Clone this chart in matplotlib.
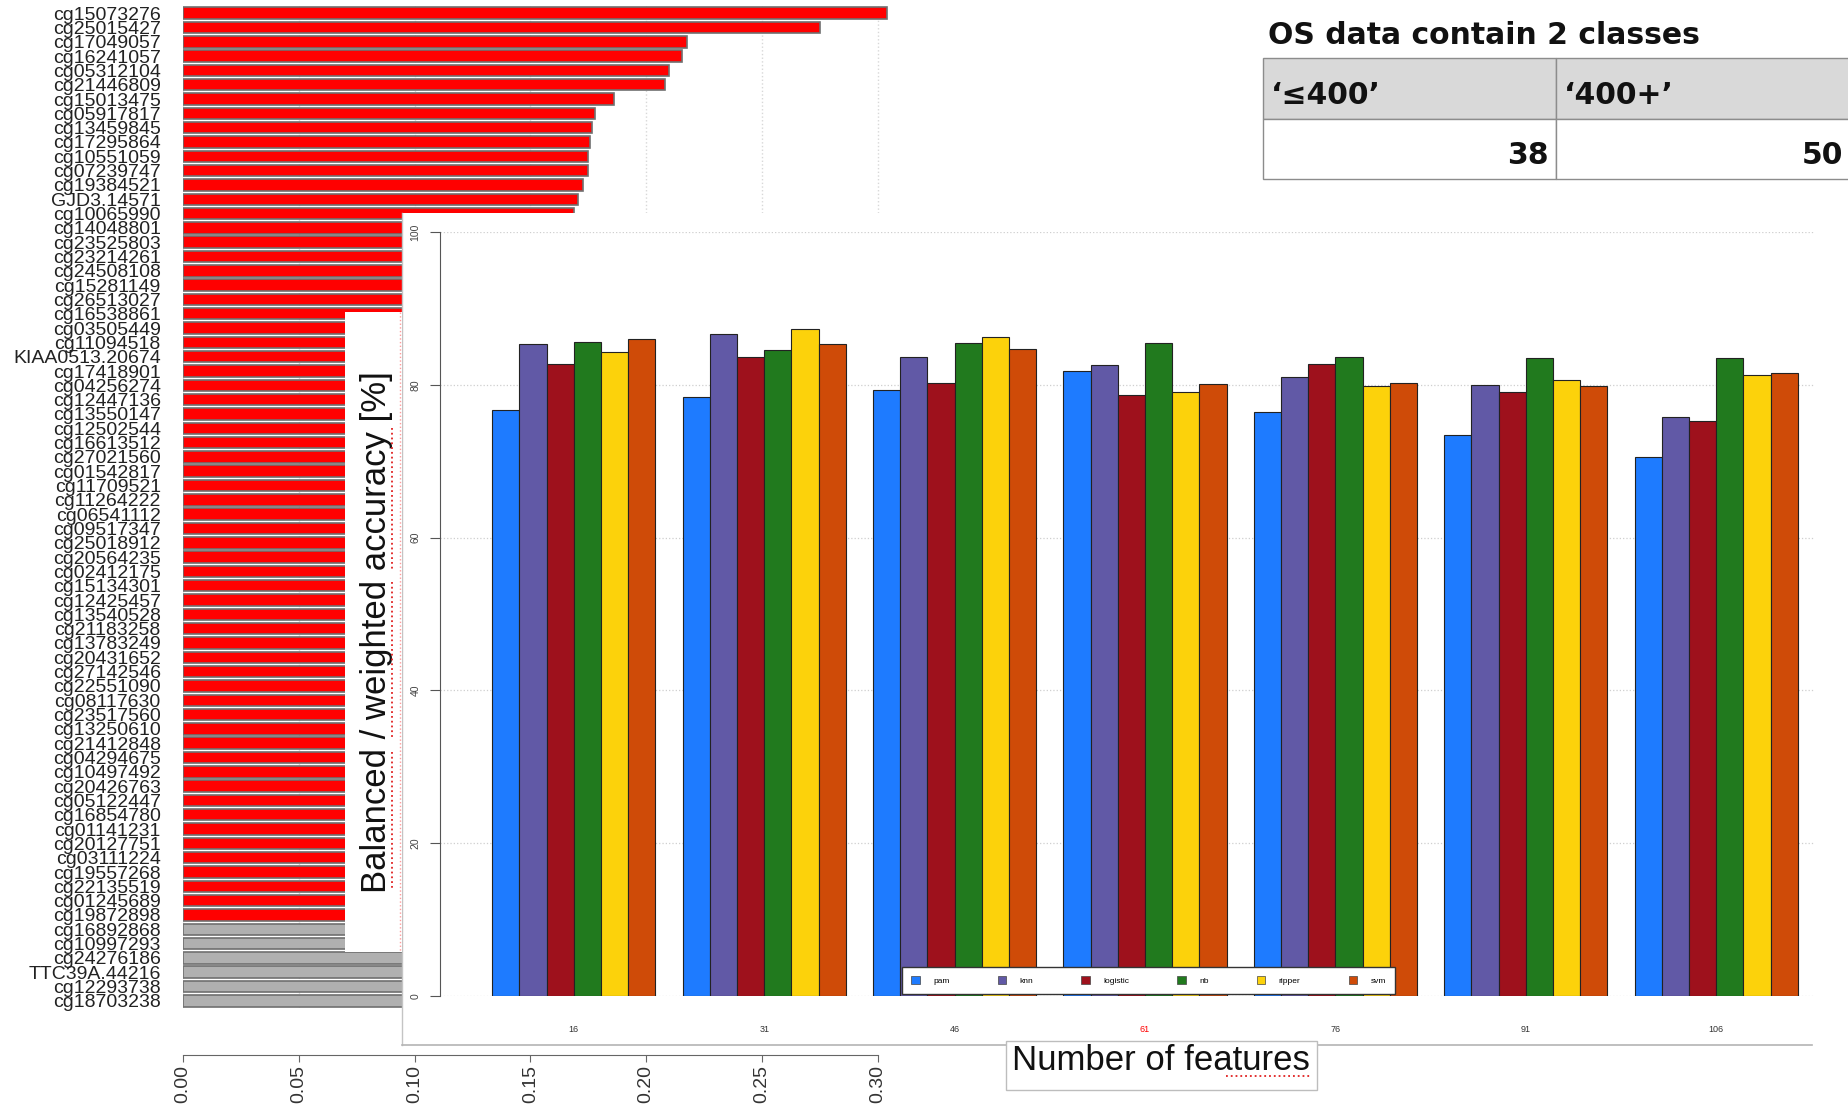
import matplotlib
matplotlib.use("Agg")
import matplotlib.pyplot as plt
from matplotlib.patches import Rectangle, Patch
from matplotlib.lines import Line2D

W, H = 1849, 1112

# feature importance (left panel)
feature_names = [
    "cg15073276", "cg25015427", "cg17049057", "cg16241057", "cg05312104",
    "cg21446809", "cg15013475", "cg05917817", "cg13459845", "cg17295864",
    "cg10551059", "cg07239747", "cg19384521", "GJD3.14571", "cg10065990",
    "cg14048801", "cg23525803", "cg23214261", "cg24508108", "cg15281149",
    "cg26513027", "cg16538861", "cg03505449", "cg11094518", "KIAA0513.20674",
    "cg17418901", "cg04256274", "cg12447136", "cg13550147", "cg12502544",
    "cg16613512", "cg27021560", "cg01542817", "cg11709521", "cg11264222",
    "cg06541112", "cg09517347", "cg25018912", "cg20564235", "cg02412175",
    "cg15134301", "cg12425457", "cg13540528", "cg21183258", "cg13783249",
    "cg20431652", "cg27142546", "cg22551090", "cg08117630", "cg23517560",
    "cg13250610", "cg21412848", "cg04294675", "cg10497492", "cg20426763",
    "cg05122447", "cg16854780", "cg01141231", "cg20127751", "cg03111224",
    "cg19557268", "cg22135519", "cg01245689", "cg19872898",
    "cg16892868", "cg10997293", "cg24276186", "TTC39A.44216", "cg12293738",
    "cg18703238",
]
importance = [
    0.3040, 0.2750, 0.2175, 0.2155, 0.2100, 0.2080, 0.1860, 0.1780, 0.1765, 0.1757,
    0.1750, 0.1748, 0.1726, 0.1705, 0.1690,
    0.1675, 0.1668, 0.1660, 0.1652, 0.1641, 0.1633, 0.1624, 0.1611, 0.1602, 0.1590,
    0.1582, 0.1571, 0.1563, 0.1550, 0.1541, 0.1533, 0.1520, 0.1512, 0.1500, 0.1492,
    0.1480, 0.1471, 0.1462, 0.1450, 0.1443, 0.1431, 0.1422, 0.1410, 0.1401, 0.1390,
    0.1382, 0.1371, 0.1360, 0.1352, 0.1340, 0.1331, 0.1320, 0.1311, 0.1300, 0.1292,
    0.1280, 0.1271, 0.1262, 0.1250, 0.1241, 0.1232, 0.1224, 0.1215, 0.1206,
    0.1180, 0.1150, 0.1120, 0.1100, 0.1080, 0.1050,
]
n_selected = 64
importance_ticks = [0.00, 0.05, 0.10, 0.15, 0.20, 0.25, 0.30]

# classifier accuracy (inset)
n_features = ["16", "31", "46", "61", "76", "91", "106"]
classifiers = ["pam", "knn", "logistic", "nb", "ripper", "svm"]
pam = [76.7, 78.4, 79.3, 81.8, 76.4, 73.4, 70.6]
knn = [85.3, 86.6, 83.6, 82.6, 81.0, 80.0, 75.8]
logistic = [82.7, 83.6, 80.2, 78.7, 82.7, 79.1, 75.2]
nb = [85.6, 84.6, 85.5, 85.5, 83.6, 83.5, 83.5]
ripper = [84.3, 87.3, 86.3, 79.0, 79.8, 80.6, 81.3]
svm = [86.0, 85.3, 84.7, 80.1, 80.2, 79.9, 81.6]
accuracy = [pam, knn, logistic, nb, ripper, svm]
clf_colors = ["#1e7bff", "#6159a6", "#9e111c", "#217a1e", "#fcd20b", "#cf4b08"]
acc_ticks = [0, 20, 40, 60, 80, 100]

# class sizes table
table_title = "OS data contain 2 classes"
class_names = ["\u2018\u2264400\u2019", "\u2018400+\u2019"]
class_counts = [38, 50]

plt.rcParams["font.family"] = ["Liberation Sans", "DejaVu Sans"]


def box(x0, y0, x1, y1):
    """pixel box (top-left origin) -> figure fraction rect"""
    return [x0 / W, 1 - y1 / H, (x1 - x0) / W, (y1 - y0) / H]


def fx(x):
    return x / W


def fy(y):
    return 1 - y / H


def fig_line(xs, ys, **kw):
    fig.add_artist(Line2D([fx(x) for x in xs], [fy(y) for y in ys],
                          transform=fig.transFigure, **kw))


fig = plt.figure(figsize=(W / 100, H / 100), dpi=100)

# ---- left: horizontal importance bars
ax = fig.add_axes(box(183, 6, 901, 1008))
bar_colors = ["#ff0000" if i < n_selected else "#b0b0b0" for i in range(len(importance))]
ax.barh(range(len(importance)), importance, height=0.8, color=bar_colors,
        edgecolor="#707070", linewidth=1.2)
ax.set_ylim(len(importance) - 0.5, -0.5)
ax.set_xlim(0, 0.31)
ax.set_yticks(range(len(feature_names)))
ax.set_yticklabels(feature_names, fontsize=14, color="#222222")
ax.tick_params(axis="y", length=0, pad=16)
for x in importance_ticks:
    ax.axvline(x, color="#d8d8d8", linestyle=":", linewidth=1, zorder=0)
for side in ["top", "right", "left"]:
    ax.spines[side].set_visible(False)
ax.spines["bottom"].set_position(("outward", 34))
ax.spines["bottom"].set_bounds(0, 0.30)
ax.spines["bottom"].set_color("#666666")
ax.set_xticks(importance_ticks)
ax.set_xticklabels([f"{t:.2f}" for t in importance_ticks], rotation=90,
                   fontsize=14, color="#333333")
ax.tick_params(axis="x", length=5, color="#666666", pad=2)

# ---- inset panel (white sheet with a left and bottom edge)
fig.add_artist(Rectangle((fx(402), fy(1045)), (1849 - 402) / W, (1045 - 213) / H,
                         transform=fig.transFigure, facecolor="white",
                         edgecolor="none", zorder=1))
fig_line([402, 402], [213, 1045], color="#c4c4c4", linewidth=1, zorder=1.5)
fig_line([402, 1812], [1045, 1045], color="#b4b4b4", linewidth=1.2, zorder=1.5)

ax2 = fig.add_axes(box(440, 232, 1815, 996))
ax2.set_zorder(2)
ax2.patch.set_alpha(0)
group_width = len(classifiers) + 1
for j, (vals, col) in enumerate(zip(accuracy, clf_colors)):
    xs = [1 + group_width * g + j for g in range(len(n_features))]
    ax2.bar(xs, vals, width=1, align="edge", color=col, edgecolor="#222222",
            linewidth=0.8, zorder=3, label=classifiers[j])
ax2.set_xlim(-0.92, 49.63)
ax2.set_ylim(0, 100)
ax2.set_yticks(acc_ticks)
ax2.set_yticklabels([str(t) for t in acc_ticks], rotation=90, va="center",
                    fontsize=7.5, color="#444444")
ax2.tick_params(axis="y", length=7, color="#555555", pad=7)
ax2.yaxis.grid(True, linestyle=":", color="#cfcfcf", linewidth=0.9)
ax2.set_axisbelow(True)
centers = [1 + group_width * g + 3 for g in range(len(n_features))]
ax2.set_xticks(centers)
ax2.set_xticklabels(n_features, fontsize=6.5, color="#333333")
ax2.get_xticklabels()[3].set_color("#ff0000")
ax2.tick_params(axis="x", length=0, pad=21)
for side in ["top", "right", "bottom"]:
    ax2.spines[side].set_visible(False)
ax2.spines["left"].set_bounds(0, 100)
ax2.spines["left"].set_color("#555555")

handles = [Patch(facecolor=c, edgecolor="#444444", linewidth=0.5) for c in clf_colors]
leg = ax2.legend(handles, classifiers, ncol=6, loc="upper left",
                 bbox_to_anchor=(fx(898), fy(963)), bbox_transform=fig.transFigure,
                 fontsize=6, frameon=True, fancybox=False, edgecolor="#333333",
                 framealpha=1, borderpad=1.1, handlelength=1.0, handleheight=1.0,
                 handletextpad=1.6, columnspacing=5.8)
leg.get_frame().set_linewidth(1)
leg.set_zorder(5)

# y-axis title box
fig.add_artist(Rectangle((fx(345), fy(952)), (402 - 345) / W, (952 - 312) / H,
                         transform=fig.transFigure, facecolor="white",
                         edgecolor="none", zorder=3))
fig_line([400, 400], [312, 952], color="#ff9a9a", linestyle=":", linewidth=1, zorder=4)
fig.text(fx(377), fy(632), "Balanced / weighted accuracy [%]", rotation=90,
         ha="center", va="center", fontsize=25, color="#111111", zorder=5)
for y0, y1 in [(752, 890), (582, 738), (428, 570)]:
    fig_line([392, 392], [y0, y1], color="#e02020", linestyle=":", linewidth=1.3, zorder=6)

# x-axis title box
fig.add_artist(Rectangle((fx(1006), fy(1090)), (1317 - 1006) / W, (1090 - 1041) / H,
                         transform=fig.transFigure, facecolor="white",
                         edgecolor="#bdbdbd", linewidth=1, zorder=3))
fig.text(fx(1161), fy(1061), "Number of features", ha="center", va="center",
         fontsize=25, color="#111111", zorder=5)
fig_line([1226, 1311], [1076, 1076], color="#e02020", linestyle=":", linewidth=1.3, zorder=6)

# ---- class table
tbl_font = dict(family="DejaVu Sans", fontweight="bold", fontsize=21.5, color="#111111")
fig.text(fx(1268), fy(36), table_title, ha="left", va="center", **tbl_font)
col_edges = [1263, 1556, 1870]
row_edges = [58, 119, 179]
for c in range(len(class_names)):
    x0, x1 = col_edges[c], col_edges[c + 1]
    fig.add_artist(Rectangle((fx(x0), fy(row_edges[1])), (x1 - x0) / W,
                             (row_edges[1] - row_edges[0]) / H, transform=fig.transFigure,
                             facecolor="#d9d9d9", edgecolor="#8c8c8c", linewidth=1, zorder=1))
    fig.add_artist(Rectangle((fx(x0), fy(row_edges[2])), (x1 - x0) / W,
                             (row_edges[2] - row_edges[1]) / H, transform=fig.transFigure,
                             facecolor="white", edgecolor="#8c8c8c", linewidth=1, zorder=1))
    fig.text(fx(x0 + 8), fy(95), class_names[c], ha="left", va="center", **tbl_font)
    right = x1 - 7 if x1 < W else 1843
    fig.text(fx(right), fy(155), str(class_counts[c]), ha="right", va="center", **tbl_font)

fig.savefig("out.png", dpi=100)
